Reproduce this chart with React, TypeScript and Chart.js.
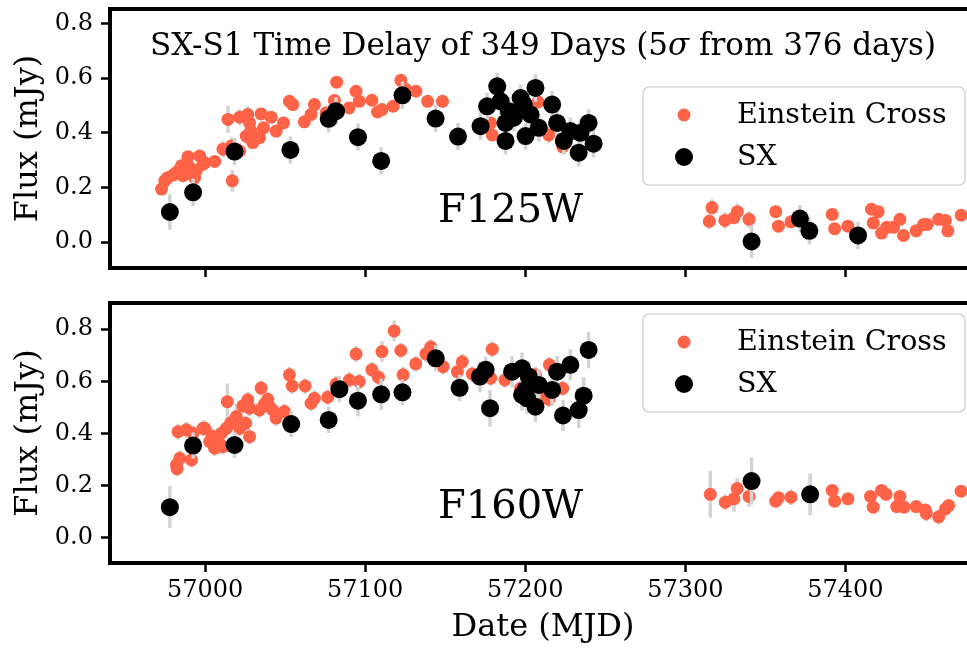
import { useEffect, useRef } from "react";
import { Chart, registerables } from "chart.js";

Chart.register(...registerables);

// ---- F125W light curves (MJD, flux in mJy, 1-sigma error) ----
const ecDates125 = [
  56972.8, 56974.8, 56976.5, 56980.0, 56982.1, 56984.0, 56985.2, 56986.2, 56988.3, 56989.3,
  56990.4, 56992.5, 56993.5, 56994.6, 56996.6, 56998.7, 56999.8, 57006.0, 57011.2, 57014.3,
  57016.4, 57017.0, 57021.6, 57021.6, 57025.7, 57026.7, 57027.8, 57028.8, 57029.8, 57034.0,
  57035.0, 57036.5, 57041.3, 57044.4, 57049.0, 57052.7, 57054.8, 57062.0, 57066.2, 57068.3,
  57075.6, 57080.8, 57082.2, 57090.0, 57094.3, 57096.3, 57104.2, 57107.7, 57110.5, 57117.5,
  57122.3, 57125.4, 57131.7, 57139.0, 57148.3, 57178.4, 57179.4, 57208.0, 57214.7, 57223.4,
  57315.0, 57316.7, 57324.7, 57330.4, 57332.5, 57339.8, 57356.5, 57358.2, 57366.0, 57391.8,
  57393.3, 57401.6, 57416.3, 57417.4, 57420.5, 57422.6, 57425.8, 57430.0, 57434.1, 57436.3,
  57444.2, 57448.8, 57451.0, 57458.3, 57462.5, 57464.0, 57472.4,
];
const ecFlux125 = [
  0.194, 0.224, 0.235, 0.245, 0.255, 0.265, 0.279, 0.243, 0.267, 0.312,
  0.273, 0.255, 0.236, 0.262, 0.315, 0.285, 0.29, 0.295, 0.34, 0.449,
  0.352, 0.224, 0.333, 0.457, 0.388, 0.467, 0.436, 0.406, 0.364, 0.382,
  0.469, 0.418, 0.457, 0.406, 0.436, 0.515, 0.503, 0.44, 0.467, 0.503,
  0.473, 0.518, 0.585, 0.491, 0.552, 0.515, 0.519, 0.476, 0.485, 0.497,
  0.592, 0.558, 0.552, 0.515, 0.515, 0.436, 0.392, 0.513, 0.392, 0.348,
  0.076, 0.126, 0.079, 0.089, 0.111, 0.083, 0.111, 0.058, 0.074, 0.101,
  0.049, 0.058, 0.12, 0.07, 0.111, 0.033, 0.054, 0.054, 0.083, 0.024,
  0.041, 0.064, 0.064, 0.083, 0.079, 0.041, 0.098,
];
const ecErr125 = [
  0.02, 0.02, 0.02, 0.02, 0.02, 0.02, 0.02, 0.02, 0.02, 0.02,
  0.02, 0.02, 0.02, 0.02, 0.02, 0.02, 0.02, 0.02, 0.03, 0.05,
  0.03, 0.04, 0.03, 0.03, 0.03, 0.03, 0.02, 0.02, 0.02, 0.02,
  0.02, 0.02, 0.02, 0.02, 0.02, 0.02, 0.02, 0.02, 0.02, 0.02,
  0.02, 0.02, 0.02, 0.02, 0.02, 0.02, 0.02, 0.02, 0.02, 0.02,
  0.02, 0.02, 0.02, 0.02, 0.02, 0.02, 0.02, 0.02, 0.03, 0.02,
  0.03, 0.03, 0.03, 0.02, 0.03, 0.03, 0.02, 0.02, 0.02, 0.02,
  0.02, 0.02, 0.02, 0.02, 0.02, 0.02, 0.02, 0.02, 0.02, 0.02,
  0.02, 0.02, 0.02, 0.02, 0.02, 0.02, 0.02,
];
const sxDates125 = [
  56978.0, 56992.5, 57018.4, 57053.3, 57077.2, 57081.8, 57095.5, 57110.0, 57123.3, 57144.0,
  57158.0, 57172.1, 57176.2, 57182.5, 57184.6, 57187.7, 57187.7, 57189.8, 57192.9, 57197.1,
  57199.1, 57200.2, 57203.3, 57206.4, 57208.5, 57216.8, 57219.9, 57224.1, 57228.2, 57233.4,
  57234.5, 57239.6, 57242.7, 57341.4, 57371.6, 57377.5, 57407.9,
];
const sxFlux125 = [
  0.11, 0.182, 0.331, 0.337, 0.451, 0.479, 0.384, 0.297, 0.537, 0.452,
  0.386, 0.424, 0.497, 0.57, 0.515, 0.37, 0.436, 0.479, 0.455, 0.527,
  0.503, 0.388, 0.467, 0.564, 0.418, 0.503, 0.436, 0.37, 0.406, 0.327,
  0.4, 0.436, 0.36, 0.002, 0.086, 0.041, 0.024,
];
const sxErr125 = [
  0.065, 0.05, 0.05, 0.05, 0.05, 0.05, 0.05, 0.05, 0.05, 0.05,
  0.05, 0.05, 0.05, 0.05, 0.05, 0.05, 0.05, 0.05, 0.05, 0.05,
  0.05, 0.05, 0.05, 0.05, 0.05, 0.05, 0.05, 0.05, 0.05, 0.05,
  0.05, 0.05, 0.05, 0.06, 0.05, 0.05, 0.05,
];

// ---- F160W light curves ----
const ecDates160 = [
  56982.1, 56982.5, 56984.2, 56983.1, 56988.3, 56991.5, 56992.5, 56998.7, 56999.8, 57002.9,
  57006.0, 57007.0, 57011.2, 57013.3, 57013.9, 57019.5, 57021.6, 57023.6, 57025.3, 57026.7,
  57027.8, 57027.8, 57034.0, 57035.0, 57037.1, 57039.2, 57040.2, 57042.3, 57044.4, 57049.6,
  57052.7, 57054.4, 57062.5, 57066.2, 57068.3, 57076.6, 57081.8, 57090.1, 57094.3, 57096.3,
  57104.2, 57108.3, 57110.5, 57118.1, 57122.3, 57123.7, 57131.6, 57137.9, 57141.0, 57148.7,
  57157.6, 57160.7, 57166.9, 57178.4, 57179.4, 57187.3, 57197.1, 57206.4, 57212.2, 57214.7,
  57215.1, 57223.4, 57004.5, 57009.0, 57010.0, 57016.0, 57020.0,
  57315.6, 57325.0, 57330.4, 57332.4, 57339.8, 57356.5, 57358.2, 57366.0, 57391.8, 57393.3,
  57401.6, 57415.7, 57417.4, 57422.6, 57425.4, 57432.1, 57434.1, 57436.7, 57444.2, 57449.9,
  57450.5, 57458.3, 57462.5, 57464.5, 57472.3,
];
const ecFlux160 = [
  0.28, 0.265, 0.305, 0.407, 0.414, 0.299, 0.401, 0.42, 0.42, 0.369,
  0.344, 0.382, 0.35, 0.42, 0.522, 0.465, 0.42, 0.506, 0.439, 0.529,
  0.388, 0.497, 0.49, 0.574, 0.513, 0.531, 0.503, 0.49, 0.459, 0.484,
  0.625, 0.582, 0.582, 0.516, 0.535, 0.539, 0.59, 0.605, 0.705, 0.599,
  0.644, 0.616, 0.714, 0.793, 0.718, 0.625, 0.667, 0.705, 0.731, 0.656,
  0.637, 0.675, 0.628, 0.612, 0.723, 0.605, 0.573, 0.625, 0.541, 0.531,
  0.663, 0.573, 0.39, 0.36, 0.4, 0.44, 0.44,
  0.167, 0.137, 0.15, 0.189, 0.159, 0.141, 0.154, 0.156, 0.182, 0.141,
  0.15, 0.159, 0.118, 0.182, 0.167, 0.12, 0.159, 0.118, 0.12, 0.107,
  0.094, 0.081, 0.111, 0.124, 0.179,
];
const ecErr160 = [
  0.03, 0.03, 0.03, 0.03, 0.03, 0.03, 0.03, 0.03, 0.03, 0.03,
  0.03, 0.03, 0.03, 0.03, 0.07, 0.05, 0.03, 0.03, 0.03, 0.03,
  0.03, 0.03, 0.03, 0.03, 0.03, 0.03, 0.03, 0.03, 0.03, 0.03,
  0.03, 0.03, 0.03, 0.03, 0.03, 0.03, 0.03, 0.03, 0.03, 0.03,
  0.03, 0.03, 0.04, 0.04, 0.03, 0.03, 0.03, 0.03, 0.03, 0.03,
  0.03, 0.03, 0.03, 0.03, 0.03, 0.03, 0.03, 0.03, 0.03, 0.03,
  0.03, 0.03, 0.03, 0.04, 0.03, 0.03, 0.03,
  0.09, 0.03, 0.05, 0.04, 0.04, 0.02, 0.02, 0.03, 0.02, 0.02,
  0.02, 0.02, 0.02, 0.02, 0.02, 0.02, 0.02, 0.02, 0.02, 0.02,
  0.03, 0.03, 0.02, 0.02, 0.02,
];
const sxDates160 = [
  56978.0, 56992.5, 57018.4, 57053.8, 57077.2, 57083.9, 57095.5, 57110.0, 57123.3, 57144.1,
  57159.0, 57171.7, 57175.3, 57178.0, 57191.8, 57198.0, 57198.0, 57200.2, 57201.2, 57202.2,
  57206.4, 57208.5, 57216.8, 57219.9, 57223.6, 57228.2, 57233.4, 57236.5, 57239.6,
  57341.4, 57378.0,
];
const sxFlux160 = [
  0.118, 0.354, 0.356, 0.436, 0.452, 0.57, 0.526, 0.55, 0.558, 0.688,
  0.575, 0.618, 0.644, 0.497, 0.637, 0.65, 0.548, 0.567, 0.535, 0.618,
  0.503, 0.586, 0.567, 0.637, 0.469, 0.663, 0.49, 0.545, 0.72,
  0.218, 0.167,
];
const sxErr160 = [
  0.08, 0.05, 0.05, 0.05, 0.05, 0.05, 0.06, 0.06, 0.05, 0.05,
  0.05, 0.06, 0.05, 0.07, 0.06, 0.06, 0.06, 0.06, 0.06, 0.06,
  0.06, 0.06, 0.06, 0.06, 0.06, 0.06, 0.07, 0.07, 0.07,
  0.09, 0.08,
];

const yTicks = [0, 0.2, 0.4, 0.6, 0.8];
const xTicks = [57000, 57100, 57200, 57300, 57400];
const legendLabels = ["Einstein Cross", "SX"];
const titleParts = ["SX-S1 Time Delay of 349 Days (5", "\u03c3", " from 376 days)"];

const FONT = "'DejaVu Serif', serif";
const EC_COLOR = "#ff6347";
const SX_COLOR = "#000000";
const ERR_COLOR = "#d3d3d3";
const CANVAS_W = 985;
const EC_RADIUS = 6.5;
const SX_RADIUS = 9;

type Panel = {
  band: string;
  ecX: number[]; ecY: number[]; ecE: number[];
  sxX: number[]; sxY: number[]; sxE: number[];
  yMin: number; yMax: number;
  height: number; padTop: number; xAxisHeight: number;
  showXLabels: boolean;
  legendTop: number;
  bandY: number;
  title: boolean;
};

function toPoints(xs: number[], ys: number[]) {
  return xs.map((x, i) => ({ x, y: ys[i] }));
}

function buildChart(canvas: HTMLCanvasElement, p: Panel) {
  const errs = [p.sxE, p.ecE];

  // vertical 1-sigma bars, drawn just beneath each dataset's markers
  const errorBars = {
    id: "errorBars",
    beforeDatasetDraw(chart: any, args: any) {
      const e = errs[args.index];
      const ds = chart.data.datasets[args.index];
      const xs = chart.scales.x;
      const ys = chart.scales.y;
      const ctx = chart.ctx;
      const a = chart.chartArea;
      ctx.save();
      ctx.beginPath();
      ctx.rect(a.left, a.top, a.right - a.left, a.bottom - a.top);
      ctx.clip();
      ctx.strokeStyle = ERR_COLOR;
      ctx.lineWidth = 3.5;
      ctx.lineCap = "butt";
      ds.data.forEach((pt: any, i: number) => {
        const px = xs.getPixelForValue(pt.x);
        ctx.beginPath();
        ctx.moveTo(px, ys.getPixelForValue(pt.y - e[i]));
        ctx.lineTo(px, ys.getPixelForValue(pt.y + e[i]));
        ctx.stroke();
      });
      ctx.restore();
    },
  };

  const decorations = {
    id: "decorations",
    afterDraw(chart: any) {
      const ctx = chart.ctx;
      const a = chart.chartArea;
      ctx.save();
      // axes frame
      ctx.strokeStyle = "#000";
      ctx.lineWidth = 4;
      ctx.strokeRect(a.left, a.top, a.right - a.left, a.bottom - a.top);

      // band name
      ctx.fillStyle = "#000";
      ctx.textBaseline = "middle";
      ctx.textAlign = "left";
      ctx.font = `40px ${FONT}`;
      ctx.fillText(p.band, 438, p.bandY);

      // title inside the upper panel
      if (p.title) {
        const fN = `31px ${FONT}`;
        const fI = `italic 31px ${FONT}`;
        ctx.font = fN;
        const w0 = ctx.measureText(titleParts[0]).width;
        const w2 = ctx.measureText(titleParts[2]).width;
        ctx.font = fI;
        const w1 = ctx.measureText(titleParts[1]).width;
        let x = (a.left + a.right) / 2 - (w0 + w1 + w2) / 2;
        const y = a.top + 38;
        ctx.font = fN;
        ctx.fillText(titleParts[0], x, y);
        x += w0;
        ctx.font = fI;
        ctx.fillText(titleParts[1], x, y);
        x += w1;
        ctx.font = fN;
        ctx.fillText(titleParts[2], x, y);
      }

      // legend
      const lx = 643;
      const ly = p.legendTop;
      const lw = 322;
      const lh = 98;
      ctx.beginPath();
      ctx.roundRect(lx, ly, lw, lh, 6);
      ctx.fillStyle = "rgba(255,255,255,0.8)";
      ctx.fill();
      ctx.strokeStyle = "#cccccc";
      ctx.lineWidth = 1.2;
      ctx.stroke();
      const entries = [
        { label: legendLabels[0], color: EC_COLOR, r: EC_RADIUS, y: ly + 28 },
        { label: legendLabels[1], color: SX_COLOR, r: SX_RADIUS, y: ly + 70 },
      ];
      entries.forEach((en) => {
        ctx.beginPath();
        ctx.arc(lx + 41, en.y, en.r, 0, Math.PI * 2);
        ctx.fillStyle = en.color;
        ctx.fill();
        ctx.fillStyle = "#000";
        ctx.font = `28.5px ${FONT}`;
        ctx.textAlign = "left";
        ctx.textBaseline = "middle";
        ctx.fillText(en.label, lx + 94, en.y + 1);
      });
      ctx.restore();
    },
  };

  return new Chart(canvas, {
    type: "scatter",
    data: {
      datasets: [
        {
          label: legendLabels[1],
          data: toPoints(p.sxX, p.sxY),
          backgroundColor: SX_COLOR,
          borderWidth: 0,
          pointRadius: SX_RADIUS,
          order: 0,
        },
        {
          label: legendLabels[0],
          data: toPoints(p.ecX, p.ecY),
          backgroundColor: EC_COLOR,
          borderWidth: 0,
          pointRadius: EC_RADIUS,
          order: 1,
        },
      ],
    },
    options: {
      responsive: false,
      animation: false,
      events: [],
      layout: { padding: { top: p.padTop, left: 0, right: 5, bottom: 0 } },
      plugins: { legend: { display: false }, tooltip: { enabled: false }, title: { display: false } },
      scales: {
        x: {
          type: "linear",
          min: 56940.6,
          max: 57481.6,
          afterBuildTicks: (s: any) => {
            s.ticks = xTicks.map((v) => ({ value: v }));
          },
          afterFit: (s: any) => {
            s.height = p.xAxisHeight;
            s.paddingLeft = 0;
            s.paddingRight = 0;
          },
          grid: { drawOnChartArea: false, drawTicks: true, tickLength: 9, tickWidth: 2.5, tickColor: "#000" },
          border: { display: false },
          ticks: {
            display: p.showXLabels,
            color: "#000",
            padding: 4,
            maxRotation: 0,
            font: { family: FONT, size: 24 },
            callback: (v: any) => String(v),
          },
          title: {
            display: p.showXLabels,
            text: "Date (MJD)",
            color: "#000",
            font: { family: FONT, size: 32 },
            padding: { top: 0, bottom: 3 },
          },
        },
        y: {
          type: "linear",
          min: p.yMin,
          max: p.yMax,
          afterBuildTicks: (s: any) => {
            s.ticks = yTicks.map((v) => ({ value: v }));
          },
          afterFit: (s: any) => {
            s.width = 110;
            s.paddingTop = 0;
            s.paddingBottom = 0;
          },
          grid: { drawOnChartArea: false, drawTicks: true, tickLength: 9, tickWidth: 2.5, tickColor: "#000" },
          border: { display: false },
          ticks: {
            color: "#000",
            padding: 8,
            font: { family: FONT, size: 24 },
            callback: (v: any) => Number(v).toFixed(1),
          },
          title: {
            display: true,
            text: "Flux (mJy)",
            color: "#000",
            font: { family: FONT, size: 32 },
            padding: { top: 9, bottom: 0 },
          },
        },
      },
    },
    plugins: [errorBars, decorations],
  } as any);
}

const panels: Panel[] = [
  {
    band: "F125W",
    ecX: ecDates125, ecY: ecFlux125, ecE: ecErr125,
    sxX: sxDates125, sxY: sxFlux125, sxE: sxErr125,
    yMin: -0.095, yMax: 0.853,
    height: 290, padTop: 7, xAxisHeight: 22,
    showXLabels: false,
    legendTop: 87,
    bandY: 212,
    title: true,
  },
  {
    band: "F160W",
    ecX: ecDates160, ecY: ecFlux160, ecE: ecErr160,
    sxX: sxDates160, sxY: sxFlux160, sxE: sxErr160,
    yMin: -0.096, yMax: 0.9,
    height: 360, padTop: 13, xAxisHeight: 87,
    showXLabels: true,
    legendTop: 24,
    bandY: 218,
    title: false,
  },
];

export default function App() {
  const topRef = useRef<HTMLCanvasElement | null>(null);
  const bottomRef = useRef<HTMLCanvasElement | null>(null);

  useEffect(() => {
    Chart.defaults.font.family = FONT;
    const charts: Chart[] = [];
    if (topRef.current) charts.push(buildChart(topRef.current, panels[0]));
    if (bottomRef.current) charts.push(buildChart(bottomRef.current, panels[1]));
    return () => charts.forEach((c) => c.destroy());
  }, []);

  return (
    <div
      style={{
        position: "absolute",
        left: 0,
        top: 0,
        width: 967,
        height: 650,
        overflow: "hidden",
        background: "#fff",
      }}
    >
      <canvas ref={topRef} width={CANVAS_W} height={panels[0].height} style={{ display: "block" }} />
      <canvas ref={bottomRef} width={CANVAS_W} height={panels[1].height} style={{ display: "block" }} />
    </div>
  );
}
